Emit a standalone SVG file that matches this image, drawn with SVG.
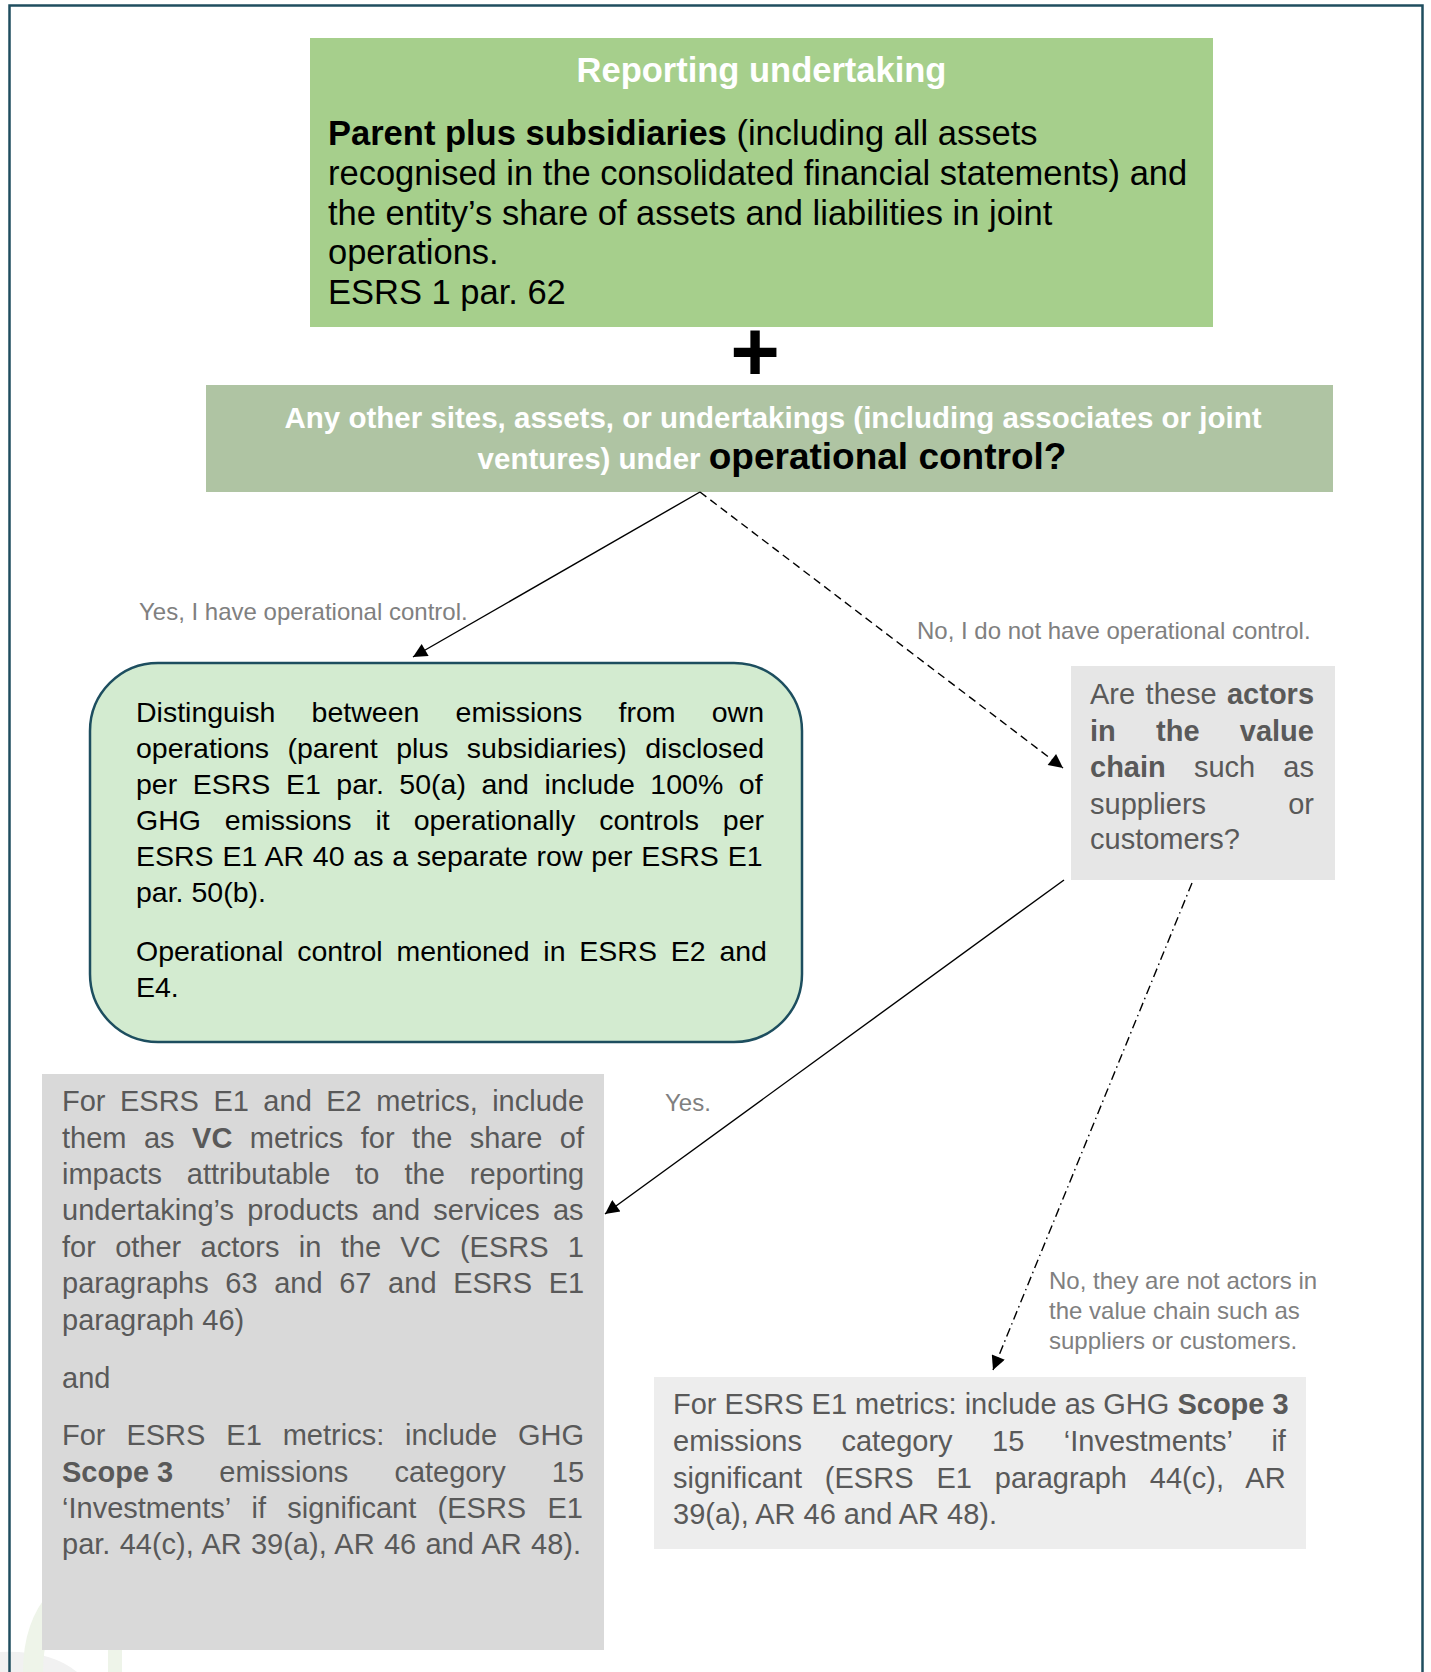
<svg xmlns="http://www.w3.org/2000/svg" width="1431" height="1672" viewBox="0 0 1431 1672">
<style>
text { font-family: 'Liberation Sans', Arial, sans-serif; }
.b { font-weight: bold; }
.body1 { font-size: 34.5px; fill: #000; }
.q2 { font-size: 29.5px; font-weight: bold; fill: #fff; }
.g3 { font-size: 28.5px; fill: #000; }
.gr { font-size: 29px; fill: #595959; }
.lbl { font-size: 24px; fill: #808080; }
.conn { stroke: #000; stroke-width: 1.4; fill: none; }
</style>
<defs>
<marker id="arr" viewBox="0 0 10 10" refX="10" refY="5" markerUnits="userSpaceOnUse" markerWidth="18" markerHeight="14" orient="auto">
<path d="M0,0 L10,5 L0,10 z" fill="#000"/>
</marker>
</defs>
<rect width="1431" height="1672" fill="#fff"/>
<g id="watermark">
<path d="M0,1652 Q50,1650 77,1672 L0,1672 z" fill="#f1f1f1"/>
<path d="M33,1672 Q33,1625 58,1598" stroke="#eef4e9" stroke-width="20" fill="none"/>
<rect x="108" y="1650" width="14" height="22" fill="#eef4e9"/>
</g>
<path id="frame" d="M9.5,1672 V5.5 H1422.5 V1672" stroke="#1f4e5f" stroke-width="2.5" fill="none"/>

<g id="reporting-undertaking">
<rect x="310" y="38" width="903" height="289" fill="#a6cf8c"/>
<text x="761.5" y="82" class="body1 b" style="fill:#fff" text-anchor="middle">Reporting undertaking</text>
<text class="body1" x="328" y="145"><tspan class="b">Parent plus subsidiaries</tspan> (including all assets</text>
<text class="body1" x="328" y="185">recognised in the consolidated financial statements) and</text>
<text class="body1" x="328" y="224.5">the entity’s share of assets and liabilities in joint</text>
<text class="body1" x="328" y="264">operations.</text>
<text class="body1" x="328" y="304">ESRS 1 par. 62</text>
</g>

<g id="plus">
<text x="755" y="381" text-anchor="middle" style="font-size:85px;font-weight:bold;fill:#000">+</text>
</g>

<g id="operational-control">
<rect x="206" y="385" width="1127" height="107" fill="#afc4a3"/>
<text class="q2" x="773" y="427.5" text-anchor="middle">Any other sites, assets, or undertakings (including associates or joint</text>
<text x="772" y="469" text-anchor="middle"><tspan class="q2">ventures) under </tspan><tspan style="font-size:37px;font-weight:bold;fill:#000">operational control?</tspan></text>
</g>

<g id="own-operations">
<rect x="90" y="663" width="712" height="379" rx="68" ry="68" fill="#d3ebd0" stroke="#1d4e5f" stroke-width="2.5"/>
<text class="g3" x="136" y="722" word-spacing="28.3">Distinguish between emissions from own</text>
<text class="g3" x="136" y="758" word-spacing="10.48">operations (parent plus subsidiaries) disclosed</text>
<text class="g3" x="136" y="794" word-spacing="7.62">per ESRS E1 par. 50(a) and include 100% of</text>
<text class="g3" x="136" y="830" word-spacing="16">GHG emissions it operationally controls per</text>
<text class="g3" x="136" y="866" word-spacing="0.87">ESRS E1 AR 40 as a separate row per ESRS E1</text>
<text class="g3" x="136" y="902">par. 50(b).</text>
<text class="g3" x="136" y="961" word-spacing="5.88">Operational control mentioned in ESRS E2 and</text>
<text class="g3" x="136" y="997">E4.</text>
</g>

<g id="value-chain-question">
<rect x="1071" y="666" width="264" height="214" fill="#e6e6e6"/>
<text class="gr" x="1090" y="704" word-spacing="2.39">Are these <tspan class="b">actors</tspan></text>
<text class="gr b" x="1090" y="740.5" word-spacing="32.2">in the value</text>
<text class="gr" x="1090" y="777" word-spacing="20.1"><tspan class="b">chain</tspan> such as</text>
<text class="gr" x="1090" y="814">suppliers</text>
<text class="gr" x="1314" y="814" text-anchor="end">or</text>
<text class="gr" x="1090" y="849">customers?</text>
</g>

<g id="vc-metrics">
<rect x="42" y="1074" width="562" height="576" fill="#d9d9d9"/>
<text class="gr" x="62" y="1111" word-spacing="6.42">For ESRS E1 and E2 metrics, include</text>
<text class="gr" x="62" y="1147.5" word-spacing="9.41">them as <tspan class="b">VC</tspan> metrics for the share of</text>
<text class="gr" x="62" y="1184" word-spacing="16.9">impacts attributable to the reporting</text>
<text class="gr" x="62" y="1220" word-spacing="5.19">undertaking’s products and services as</text>
<text class="gr" x="62" y="1256.5" word-spacing="11.25">for other actors in the VC (ESRS 1</text>
<text class="gr" x="62" y="1293" word-spacing="8.57">paragraphs 63 and 67 and ESRS E1</text>
<text class="gr" x="62" y="1330">paragraph 46)</text>
<text class="gr" x="62" y="1388">and</text>
<text class="gr" x="62" y="1445" word-spacing="12.86">For ESRS E1 metrics: include GHG</text>
<text class="gr" x="62" y="1482" word-spacing="38.07"><tspan class="b" word-spacing="0">Scope 3</tspan> emissions category 15</text>
<text class="gr" x="62" y="1518" word-spacing="13.26">‘Investments’ if significant (ESRS E1</text>
<text class="gr" x="62" y="1554" word-spacing="1.2">par. 44(c), AR 39(a), AR 46 and AR 48).</text>
</g>

<g id="scope3-investments">
<rect x="654" y="1377" width="652" height="172" fill="#ededed"/>
<text class="gr" x="673" y="1414">For ESRS E1 metrics: include as GHG <tspan class="b">Scope 3</tspan></text>
<text class="gr" x="673" y="1451" word-spacing="31.4">emissions category 15 ‘Investments’ if</text>
<text class="gr" x="673" y="1487.5" word-spacing="14.84">significant (ESRS E1 paragraph 44(c), AR</text>
<text class="gr" x="673" y="1524">39(a), AR 46 and AR 48).</text>
</g>

<g id="connectors">
<path class="conn" d="M700,492 L413,657" marker-end="url(#arr)"/>
<path class="conn" d="M700,492 L1063,768" stroke-dasharray="8 5" marker-end="url(#arr)"/>
<path class="conn" d="M1064,880 L605,1214" marker-end="url(#arr)"/>
<path class="conn" d="M1192,883 L993,1370" stroke-dasharray="9 4 1.5 4" marker-end="url(#arr)"/>
<text class="lbl" x="139" y="619.5">Yes, I have operational control.</text>
<text class="lbl" x="917" y="639">No, I do not have operational control.</text>
<text class="lbl" x="665" y="1111">Yes.</text>
<text class="lbl" x="1049" y="1289">No, they are not actors in</text>
<text class="lbl" x="1049" y="1319">the value chain such as</text>
<text class="lbl" x="1049" y="1349">suppliers or customers.</text>
</g>
</svg>
